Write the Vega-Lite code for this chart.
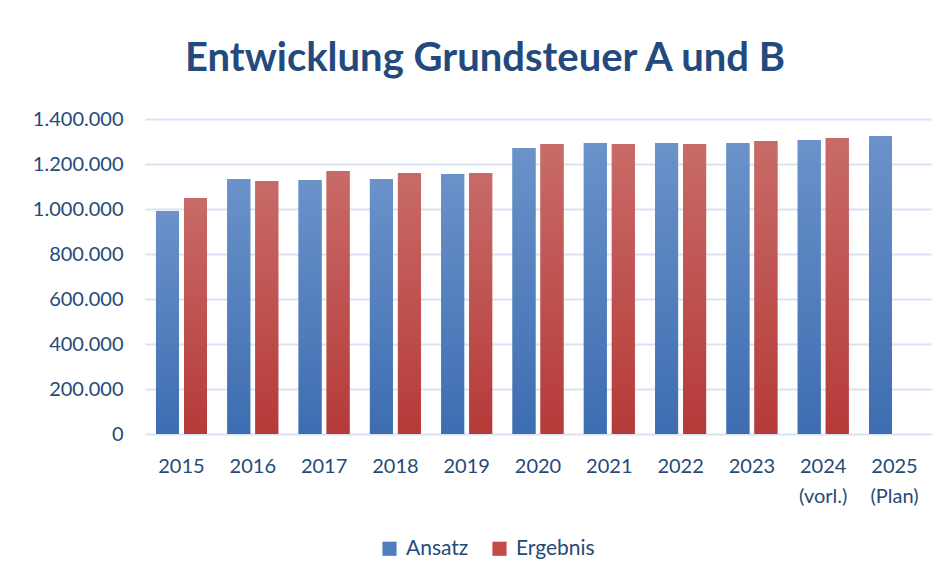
{
  "$schema": "https://vega.github.io/schema/vega-lite/v6.json",
  "width": 786,
  "height": 315,
  "autosize": "none",
  "padding": {"left": 145, "top": 119, "right": 14, "bottom": 145},
  "background": "white",
  "title": {
    "text": "Entwicklung Grundsteuer A und B",
    "font": "Lato",
    "fontSize": 40,
    "fontWeight": "bold",
    "color": "#234a7d",
    "anchor": "middle",
    "dx": -53,
    "offset": 30
  },
  "config": {
    "view": {"stroke": null},
    "axis": {"labelFont": "Lato", "labelFontSize": 20, "labelColor": "#264a78"},
    "legend": {"labelFont": "Lato", "labelFontSize": 21, "labelColor": "#264a78"}
  },
  "data": {
    "values": [
      {"year": "2015", "series": "Ansatz", "value": 991000},
      {"year": "2015", "series": "Ergebnis", "value": 1049000},
      {"year": "2016", "series": "Ansatz", "value": 1133000},
      {"year": "2016", "series": "Ergebnis", "value": 1124000},
      {"year": "2017", "series": "Ansatz", "value": 1129000},
      {"year": "2017", "series": "Ergebnis", "value": 1169000},
      {"year": "2018", "series": "Ansatz", "value": 1133000},
      {"year": "2018", "series": "Ergebnis", "value": 1160000},
      {"year": "2019", "series": "Ansatz", "value": 1156000},
      {"year": "2019", "series": "Ergebnis", "value": 1160000},
      {"year": "2020", "series": "Ansatz", "value": 1271000},
      {"year": "2020", "series": "Ergebnis", "value": 1289000},
      {"year": "2021", "series": "Ansatz", "value": 1293000},
      {"year": "2021", "series": "Ergebnis", "value": 1289000},
      {"year": "2022", "series": "Ansatz", "value": 1293000},
      {"year": "2022", "series": "Ergebnis", "value": 1289000},
      {"year": "2023", "series": "Ansatz", "value": 1293000},
      {"year": "2023", "series": "Ergebnis", "value": 1302000},
      {"year": "2024 (vorl.)", "series": "Ansatz", "value": 1307000},
      {"year": "2024 (vorl.)", "series": "Ergebnis", "value": 1316000},
      {"year": "2025 (Plan)", "series": "Ansatz", "value": 1324000}
    ]
  },
  "encoding": {
    "x": {
      "field": "year",
      "type": "nominal",
      "sort": null,
      "title": null,
      "scale": {"paddingInner": 0.285, "paddingOuter": 0.154},
      "axis": {
        "labelAngle": 0,
        "ticks": false,
        "domain": false,
        "labelPadding": 22,
        "labelLineHeight": 30,
        "labelExpr": "split(datum.label, ' ')"
      }
    },
    "xOffset": {
      "field": "series",
      "type": "nominal",
      "scale": {"domain": ["Ansatz", "Ergebnis"], "paddingInner": 0.18, "paddingOuter": 0}
    },
    "y": {
      "field": "value",
      "type": "quantitative",
      "title": null,
      "scale": {"domain": [0, 1400000], "nice": false},
      "axis": {
        "values": [0, 200000, 400000, 600000, 800000, 1000000, 1200000, 1400000],
        "labelExpr": "replace(format(datum.value, ',d'), /,/g, '.')",
        "ticks": false,
        "domain": false,
        "labelPadding": 22,
        "gridColor": "#d9e3f3",
        "gridWidth": 2
      }
    }
  },
  "layer": [
    {
      "mark": {"type": "bar"},
      "encoding": {
        "color": {
          "field": "series",
          "type": "nominal",
          "scale": {"domain": ["Ansatz", "Ergebnis"], "range": ["#4f7fbf", "#c24b48"]},
          "legend": {
            "title": null,
            "orient": "none",
            "direction": "horizontal",
            "legendX": 234,
            "legendY": 419,
            "symbolType": "square",
            "symbolSize": 200,
            "symbolStrokeWidth": 0,
            "symbolOpacity": 1,
            "columnPadding": 20,
            "labelOffset": 6
          }
        }
      }
    },
    {
      "transform": [{"filter": "datum.series === 'Ansatz'"}],
      "mark": {
        "type": "bar",
        "color": {
          "gradient": "linear",
          "x1": 0, "y1": 0, "x2": 0, "y2": 1,
          "stops": [
            {"offset": 0, "color": "#6b92c9"},
            {"offset": 1, "color": "#3d6db1"}
          ]
        }
      },
      "encoding": {}
    },
    {
      "transform": [{"filter": "datum.series === 'Ergebnis'"}],
      "mark": {
        "type": "bar",
        "color": {
          "gradient": "linear",
          "x1": 0, "y1": 0, "x2": 0, "y2": 1,
          "stops": [
            {"offset": 0, "color": "#c86b68"},
            {"offset": 1, "color": "#b53a38"}
          ]
        }
      },
      "encoding": {}
    }
  ]
}
